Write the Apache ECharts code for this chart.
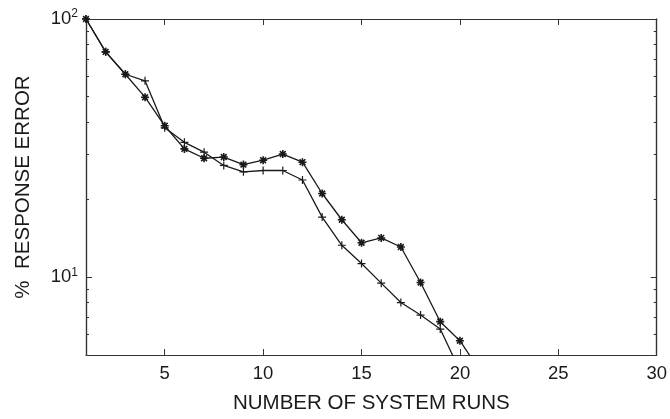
<!DOCTYPE html>
<html>
<head>
<meta charset="utf-8">
<script src="https://cdn.jsdelivr.net/npm/echarts@6/dist/echarts.min.js"></script>
<style>
html,body{margin:0;padding:0;background:#fff;}
#chart{width:670px;height:419px;}
</style>
</head>
<body>
<div id="chart"></div>
<script>
// ---- data ----
var runsStar = [1,2,3,4,5,6,7,8,9,10,11,12,13,14,15,16,17,18,19,20,21];
var errStar  = [100,74.6,61.1,49.8,38.6,31.4,28.9,29.2,27.3,28.4,30.0,27.9,21.1,16.7,13.6,14.2,13.1,9.54,6.73,5.68,4.36];
var runsPlus = [1,2,3,4,5,6,7,8,9,10,11,12,13,14,15,16,17,18,19,20];
var errPlus  = [100,74.6,61.1,57.6,37.9,33.3,30.5,27.1,25.6,25.9,25.9,23.8,17.1,13.3,11.3,9.49,7.98,7.14,6.30,4.35];
var xTicks = [5,10,15,20,25,30];
var yMajor = [10,100];
var yMinor = [6,7,8,9,20,30,40,50,60,70,80,90];
var xTitle = 'NUMBER OF SYSTEM RUNS';
var yTitle = '%  RESPONSE ERROR';

function pairs(xs, ys){ return xs.map(function(x,i){ return [x, ys[i]]; }); }

var FONT = 'Liberation Sans, Arial, Helvetica, sans-serif';
var AX = '#333';
var INK = '#1a1a1a';
var TICKFS = 18.5;
var TITLEFS = 20.5;
var STAR = 'path://M0,-5L0,5M-5,0L5,0M-3.6,-3.6L3.6,3.6M-3.6,3.6L3.6,-3.6';
var PLUS = 'path://M0,-5L0,5M-5,0L5,0';

function yAxisDef(pos, ticks, len, withLabels, withName){
  var a = {
    type:'log', logBase:10, min:5, max:100, position:pos, gridIndex:0,
    axisLine:{show:true, lineStyle:{color:AX, width:1.2}},
    axisTick:{show:true, inside:true, length:len, customValues:ticks, lineStyle:{color:AX, width:1}},
    minorTick:{show:false},
    splitLine:{show:false},
    axisLabel:{show:withLabels}
  };
  if (withLabels) {
    a.axisLabel = {
      show:true, customValues:yMajor, margin:8,
      formatter:function(v){ return '{b|10}{s|' + Math.round(Math.log10(v)) + '}'; },
      rich:{
        b:{fontSize:TICKFS, fontFamily:FONT, color:INK, lineHeight:22},
        s:{fontSize:12, fontFamily:FONT, color:INK, verticalAlign:'top', lineHeight:12}
      }
    };
  }
  if (withName) {
    a.name = yTitle; a.nameLocation = 'middle'; a.nameGap = 52;
    a.nameTextStyle = {fontSize:TITLEFS, fontFamily:FONT, color:INK};
  }
  return a;
}

function xAxisDef(pos, withLabels){
  var a = {
    type:'value', min:1, max:30, position:pos, gridIndex:0,
    axisLine:{show:true, onZero:false, lineStyle:{color:AX, width:1.2}},
    axisTick:{show:true, inside:true, length:6, customValues:xTicks, lineStyle:{color:AX, width:1}},
    splitLine:{show:false},
    axisLabel:{show:withLabels}
  };
  if (withLabels) {
    a.axisLabel = {show:true, customValues:xTicks, margin:9, fontSize:TICKFS, fontFamily:FONT, color:INK};
    a.name = xTitle; a.nameLocation = 'middle'; a.nameGap = 38;
    a.nameTextStyle = {fontSize:TITLEFS, fontFamily:FONT, color:INK};
  }
  return a;
}

var chart = echarts.init(document.getElementById('chart'), null, {renderer:'canvas'});
chart.setOption({
  animation:false,
  backgroundColor:'#fff',
  grid:{left:86, right:10, top:19, bottom:60, containLabel:false},
  xAxis:[ xAxisDef('bottom', true), xAxisDef('top', false) ],
  yAxis:[
    yAxisDef('left', yMajor, 6, true, true),
    yAxisDef('left', yMinor, 3, false, false),
    yAxisDef('right', yMajor, 6, false, false),
    yAxisDef('right', yMinor, 3, false, false)
  ],
  series:[
    {
      type:'line', xAxisIndex:0, yAxisIndex:0, data:pairs(runsStar, errStar),
      symbol:STAR, symbolSize:8, showAllSymbol:true, clip:true,
      lineStyle:{color:INK, width:1.3},
      itemStyle:{color:'none', borderColor:INK, borderWidth:1.6}
    },
    {
      type:'line', xAxisIndex:0, yAxisIndex:0, data:pairs(runsPlus, errPlus),
      symbol:PLUS, symbolSize:8, showAllSymbol:true, clip:true,
      lineStyle:{color:INK, width:1.3},
      itemStyle:{color:'none', borderColor:INK, borderWidth:1.2}
    }
  ]
});
</script>
</body>
</html>
